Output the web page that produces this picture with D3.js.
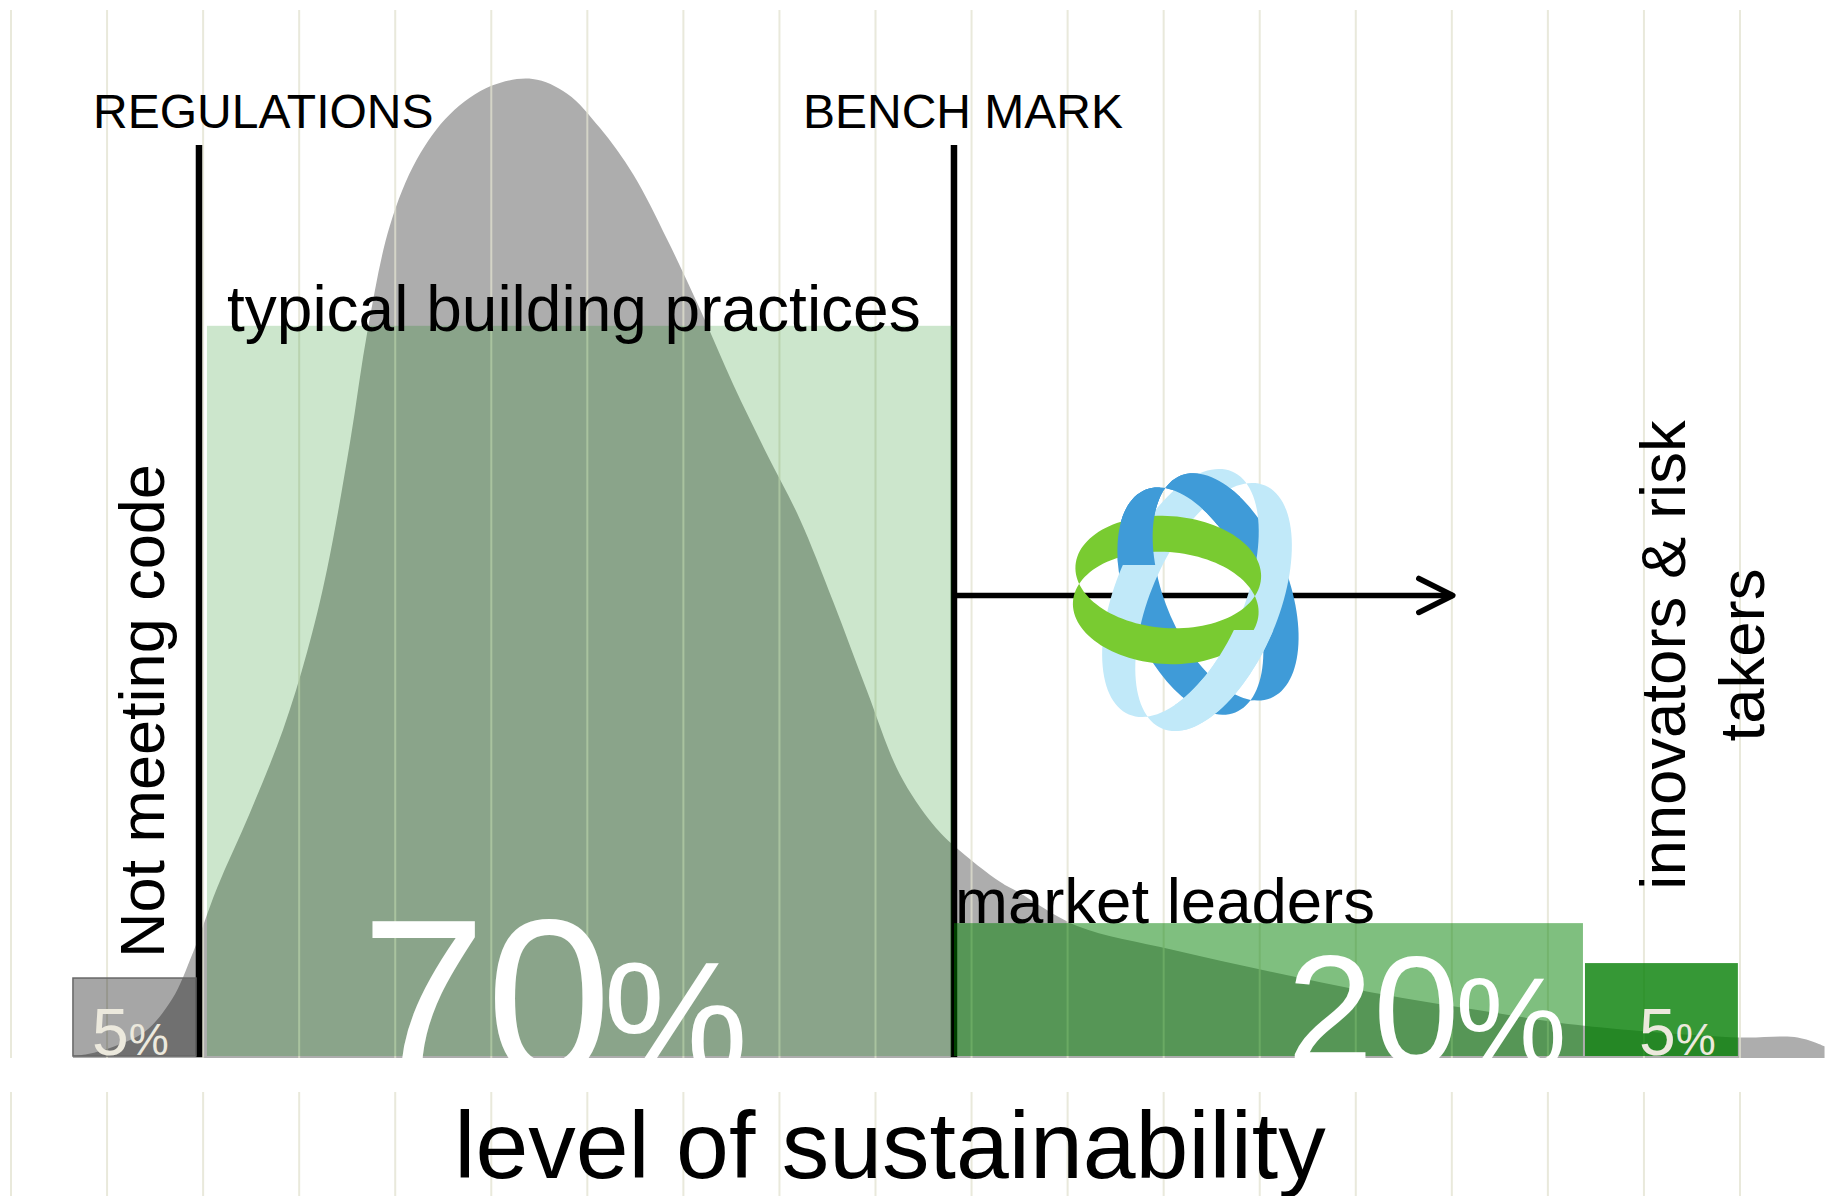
<!DOCTYPE html>
<html>
  <head>
    <meta charset="utf-8">
    <title>level of sustainability</title>
    <style type="text/css">
      body { margin: 0; background: #fff; }
      text { font-family: "Liberation Sans", Arial, sans-serif; }
    </style>
  </head>
  <body>
    <div id="chart"></div>
    <script src="https://d3js.org/d3.v7.min.js"></script>
    <script>

    // distribution curve (level on x, share of buildings, peak = 100)
    var curveLevel = [0.645, 0.80, 1.08, 1.395, 1.676, 1.895, 2.145, 2.488, 2.832, 3.081, 3.29, 3.529, 3.716, 3.945, 4.227, 4.57, 5.0, 5.43, 5.79, 6.13, 6.48, 6.83, 7.17, 7.52, 7.87, 8.21, 8.56, 8.91, 9.25, 9.60, 9.82, 10.30, 10.48, 11.10, 12.08, 13.13, 14.17, 15.40, 16.38, 17.98, 18.6, 18.88];
    var curveShare = [0, 0.2, 1.0, 2.5, 5.8, 10.6, 17.2, 24.9, 33.4, 41.3, 49.8, 62.8, 74.5, 85.0, 91.8, 96.4, 99.3, 100, 98.5, 95.0, 90.2, 83.6, 76.5, 68.7, 61.6, 55.0, 46.5, 37.4, 28.9, 23.7, 21.5, 17.8, 16.8, 13.3, 10.9, 8.6, 6.5, 4.5, 3.1, 1.9, 1.9, 1.0];

    // market segments
    var segments = ["Not meeting code", "typical building practices", "market leaders", "innovators & risk takers"];
    var segmentPct = [5, 70, 20, 5];
    var segmentFrom = [0.645, 2.04, 9.817, 16.386];
    var segmentTo = [1.926, 9.796, 16.365, 17.978];
    var segmentBar = [7.98, 74.74, 13.6, 9.51];

    // threshold lines
    var thresholds = ["REGULATIONS", "BENCH MARK"];
    var thresholdLevel = [1.957, 9.817];
    var thresholdTop = 93.25;
    var arrowTo = 15.01, arrowShare = 47.14;

    var width = 1825, height = 1196;

    var x = d3.scaleLinear().domain([0, 18]).range([11, 1740]);
    var y = d3.scaleLinear().domain([0, 100]).range([1056, 79]);

    var svg = d3.select("#chart").append("svg")
      .attr("width", width)
      .attr("height", height);
    var defs = svg.append("defs");
    defs.append("clipPath").attr("id", "plot").append("rect")
      .attr("x", 0).attr("y", 0).attr("width", width).attr("height", y(0) + 2);

    // gray distribution
    var pts = curveLevel.map(function(l, i) { return [l, curveShare[i]]; });
    var area = d3.area()
      .x(function(d) { return x(d[0]); })
      .y0(y(0) + 2)
      .y1(function(d) { return y(d[1]); })
      .curve(d3.curveCatmullRom.alpha(0.5));
    svg.append("path").datum(pts)
      .attr("d", area)
      .attr("clip-path", "url(#plot)")
      .style("fill", "#adadad");

    // vertical grid
    var ticks = x.ticks(18);
    svg.append("g").selectAll("line.top").data(ticks).enter().append("line")
      .attr("x1", function(d) { return x(d); }).attr("x2", function(d) { return x(d); })
      .attr("y1", 10).attr("y2", y(0) + 2)
      .style("stroke", "#e2e2d0").style("stroke-width", 2).style("opacity", 0.75);
    svg.append("g").selectAll("line.bot").data(ticks).enter().append("line")
      .attr("x1", function(d) { return x(d); }).attr("x2", function(d) { return x(d); })
      .attr("y1", 1092).attr("y2", height)
      .style("stroke", "#e2e2d0").style("stroke-width", 2).style("opacity", 0.75);

    // threshold lines (under the coloured bars)
    svg.selectAll("line.thr").data(thresholdLevel).enter().append("line")
      .attr("x1", function(d) { return x(d); }).attr("x2", function(d) { return x(d); })
      .attr("y1", y(thresholdTop)).attr("y2", y(0) + 1)
      .style("stroke", "#000").style("stroke-width", 6.5);

    // segment bars
    var barFill = ["#000", "#008000", "#008000", "#007c00"];
    var barOpacity = [0.35, 0.2, 0.5, 0.79];
    svg.selectAll("rect.seg").data(segments).enter().append("rect")
      .attr("x", function(d, i) { return x(segmentFrom[i]); })
      .attr("width", function(d, i) { return x(segmentTo[i]) - x(segmentFrom[i]); })
      .attr("y", function(d, i) { return y(segmentBar[i]); })
      .attr("height", function(d, i) { return y(0) - y(segmentBar[i]); })
      .style("fill", function(d, i) { return barFill[i]; })
      .style("fill-opacity", function(d, i) { return barOpacity[i]; })
      .style("stroke", function(d, i) { return i == 0 ? "#666" : "none"; })
      .style("stroke-width", 1.5);

    // arrow from bench mark
    var ay = y(arrowShare);
    svg.append("line")
      .attr("x1", x(thresholdLevel[1])).attr("x2", x(arrowTo))
      .attr("y1", ay).attr("y2", ay)
      .style("stroke", "#000").style("stroke-width", 5.5);
    svg.append("path")
      .attr("d", "M" + (x(arrowTo) - 34) + "," + (ay - 17) + "L" + x(arrowTo) + "," + ay + "L" + (x(arrowTo) - 34) + "," + (ay + 17))
      .style("fill", "none").style("stroke", "#000").style("stroke-width", 5.5)
      .style("stroke-linecap", "round").style("stroke-linejoin", "round");

    // logo: three woven bands
    function ring(cx, cy, rx, ry, off, ang) {
      var p = d3.path();
      var a = ang * Math.PI / 180;
      [-off / 2, off / 2].forEach(function(o) {
        var n = 120;
        for (var k = 0; k <= n; k++) {
          var t = k / n * 2 * Math.PI;
          var lx = rx * Math.cos(t), ly = ry * Math.sin(t) + o;
          var px = cx + lx * Math.cos(a) - ly * Math.sin(a);
          var py = cy + lx * Math.sin(a) + ly * Math.cos(a);
          if (k == 0) p.moveTo(px, py); else p.lineTo(px, py);
        }
        p.closePath();
      });
      return p.toString();
    }
    var logo = svg.append("g");
    defs.append("clipPath").attr("id", "cl0").append("rect")
      .attr("x", 1080).attr("y", 455).attr("width", 160).attr("height", 70);
    defs.append("clipPath").attr("id", "cl1").append("rect")
      .attr("x", 1080).attr("y", 460).attr("width", 80).attr("height", 105);
    defs.append("clipPath").attr("id", "cl2").append("rect")
      .attr("x", 1175).attr("y", 630).attr("width", 120).attr("height", 120);
    var ltBlue = ring(1197, 600, 132, 64, 36, 113);
    var blue = ring(1208, 594, 120, 62, 38, 68);
    var green = ring(1167, 590, 93, 56, 36, 4);
    logo.append("path").attr("d", blue).style("fill", "#3f9bd8").style("fill-rule", "evenodd");
    logo.append("path").attr("d", ltBlue).style("fill", "#c1e9f9").style("fill-rule", "evenodd");
    logo.append("path").attr("d", blue).attr("clip-path", "url(#cl0)").style("fill", "#3f9bd8").style("fill-rule", "evenodd");
    logo.append("path").attr("d", green).style("fill", "#79cb31").style("fill-rule", "evenodd");
    logo.append("path").attr("d", blue).attr("clip-path", "url(#cl1)").style("fill", "#3f9bd8").style("fill-rule", "evenodd");
    logo.append("path").attr("d", ltBlue).attr("clip-path", "url(#cl2)").style("fill", "#c1e9f9").style("fill-rule", "evenodd");

    // threshold titles
    var thrTextX = [93, 803];
    svg.selectAll("text.thr").data(thresholds).enter().append("text")
      .attr("x", function(d, i) { return thrTextX[i]; })
      .attr("y", 128)
      .style("font-size", "48px")
      .text(function(d) { return d; });

    // segment names
    svg.append("text").attr("transform", "translate(164,958) rotate(-90)")
      .style("font-size", "63px").text(segments[0]);
    svg.append("text").attr("x", 227).attr("y", 331)
      .style("font-size", "64px").text(segments[1]);
    svg.append("text").attr("x", 955).attr("y", 923)
      .style("font-size", "63.5px").text(segments[2]);
    var inn = ["innovators & risk", "takers"];
    svg.selectAll("text.inn").data(inn).enter().append("text")
      .attr("transform", function(d, i) { return "translate(" + (1685 + 79 * i) + ",655) rotate(-90)"; })
      .style("text-anchor", "middle").style("font-size", "63.5px")
      .text(function(d) { return d; });

    // share labels (white on white below the baseline, so clipped there)
    var pctX = [92, 361, 1287, 1639], pctY = [1055, 1076, 1064, 1055];
    var pctSize = [66, 225, 155, 66], pctSign = [45, 163, 125, 45], pctGap = [0, -8, -4, 0];
    var pctColor = ["#ece9dd", "#fff", "#fff", "#ece9dd"];
    var labels = svg.append("g").attr("clip-path", "url(#plot)");
    segmentPct.forEach(function(v, i) {
      var t = labels.append("text").attr("x", pctX[i]).attr("y", pctY[i])
        .style("fill", pctColor[i]).style("font-size", pctSize[i] + "px");
      t.append("tspan").text(v);
      t.append("tspan").attr("dx", pctGap[i]).style("font-size", pctSign[i] + "px").text("%");
    });

    // axis title
    svg.append("text").attr("x", 890).attr("y", 1178)
      .style("text-anchor", "middle").style("font-size", "95px")
      .text("level of sustainability");

    </script>
  </body>
</html>
